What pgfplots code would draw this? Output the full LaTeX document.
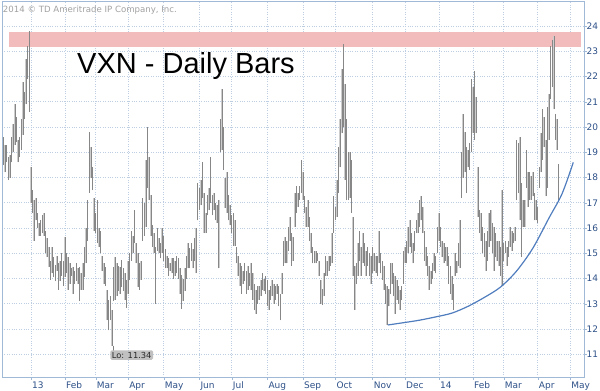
\documentclass[border=0pt]{standalone}
\usepackage{fontspec}
\setmainfont{DejaVu Sans}
\newfontfamily\arialf{Liberation Sans}
\usepackage{pgfplots}
\usepackage{pgfplotstable}
\pgfplotsset{compat=1.18}
\definecolor{tickblue}{RGB}{45,80,135}
\definecolor{axisblue}{RGB}{160,185,215}
\definecolor{gridblue}{RGB}{190,206,226}
\definecolor{bandred}{RGB}{242,188,188}
\definecolor{barcol}{RGB}{135,135,135}
\definecolor{barfill}{RGB}{205,205,205}
\definecolor{curveblue}{RGB}{80,125,190}
\definecolor{copygray}{RGB}{160,160,160}
\definecolor{lobox}{RGB}{192,192,192}

\pgfplotstableread{
i lo hi
-17 18.5 19.6
-16 18.2 19.3
-15 18.6 19.3
-14 17.9 18.8
-13 18.0 18.9
-12 18.6 19.6
-11 19.0 20.1
-10 19.3 20.9
-9 19.4 20.4
-8 18.6 19.5
-7 18.8 19.6
-6 19.1 20.3
-5 19.7 21.8
-4 20.3 21.4
-3 20.9 22.7
-2 21.9 23.2
-1 20.6 23.8
0 17.0 18.4
1 16.6 17.5
2 15.5 17.1
3 16.3 17.2
4 16.0 16.6
5 15.7 16.2
6 15.7 16.3
7 15.8 16.5
8 15.7 16.6
9 15.0 15.9
10 14.85 15.6
11 14.45 15.25
12 13.95 14.7
13 14.2 15.25
14 14.06 14.85
15 13.9 14.55
16 14.3 14.9
17 13.55 14.6
18 13.9 14.7
19 14.1 15.0
20 13.7 14.7
21 14.06 15.64
22 14.2 15.0
23 13.55 14.85
24 13.8 14.6
25 14.1 14.4
26 13.4 14.45
27 13.8 14.3
28 13.9 14.6
29 13.8 14.4
30 13.1 14.45
31 13.55 14.2
32 13.55 14.6
33 14.06 15.25
34 14.6 16.0
35 15.5 17.1
36 17.4 19.8
37 18.0 19.2
38 17.5 18.4
39 15.9 17.2
40 15.8 16.6
41 15.4 17.1
42 15.25 16.0
43 15.0 15.9
44 14.3 14.9
45 13.8 14.6
46 13.7 14.45
47 12.35 13.55
48 11.95 13.15
49 12.35 13.3
50 11.34 12.75
51 13.1 14.45
52 13.15 14.85
53 13.3 14.6
54 13.5 14.5
55 13.4 14.45
56 13.66 14.73
57 13.5 14.4
58 13.15 14.2
59 12.83 13.94
60 13.4 14.7
61 13.94 15.0
62 14.7 15.9
63 15.0 15.7
64 15.4 16.7
65 14.6 15.4
66 13.66 15.0
67 13.55 14.6
68 13.95 14.7
69 15.5 17.2
70 15.7 17.0
71 16.04 18.7
72 17.6 20.0
73 17.1 18.8
74 15.7 17.3
75 15.25 16.1
76 15.0 15.8
77 13.0 15.25
78 15.1 16.0
79 15.0 15.6
80 14.8 15.4
81 15.0 16.0
82 14.7 15.7
83 14.4 15.15
84 14.4 14.9
85 14.1 14.8
86 14.3 14.6
87 14.2 14.8
88 14.0 14.8
89 14.1 14.7
90 14.2 14.9
91 14.0 14.8
92 13.4 14.4
93 12.8 14.15
94 13.1 14.0
95 13.5 14.4
96 14.0 14.9
97 14.4 15.4
98 14.4 15.2
99 14.7 15.4
100 14.4 15.15
101 14.7 15.6
102 14.2 16.0
103 16.3 17.8
104 16.7 17.6
105 16.9 17.9
106 17.2 18.6
107 15.8 17.4
108 15.8 16.6
109 16.5 17.3
110 16.7 17.6
111 17.0 18.8
112 16.5 17.3
113 16.7 17.4
114 16.3 17.0
115 16.2 16.9
116 14.4 17.1
117 19.0 20.3
118 19.1 21.5
119 18.3 20.0
120 16.8 18.0
121 16.6 18.2
122 16.3 17.3
123 16.1 16.9
124 15.8 16.5
125 15.3 16.6
126 15.3 16.3
127 14.6 15.26
128 14.1 14.9
129 13.7 14.6
130 13.4 14.5
131 13.8 14.3
132 13.9 14.6
133 13.4 14.3
134 13.55 14.5
135 13.7 14.2
136 13.55 14.6
137 13.15 14.2
138 12.75 13.8
139 12.6 13.55
140 13.0 13.7
141 13.15 13.7
142 13.3 13.95
143 13.55 14.2
144 13.5 14.0
145 13.4 14.1
146 12.9 13.95
147 12.75 13.55
148 13.15 13.7
149 13.3 13.95
150 13.0 13.8
151 13.15 13.7
152 13.4 13.8
153 12.9 13.7
154 12.35 13.4
155 13.4 14.2
156 14.5 15.5
157 14.6 15.65
158 14.6 15.5
159 15.1 16.05
160 15.5 16.45
161 14.5 15.8
162 14.7 15.65
163 16.05 17.4
164 16.6 17.65
165 16.85 17.4
166 17.1 17.65
167 17.4 18.7
168 17.1 18.2
169 16.6 17.25
170 16.05 16.85
171 16.05 17.1
172 15.5 16.45
173 15.0 15.8
174 14.6 15.26
175 14.6 15.1
176 14.6 15.1
177 14.7 15.0
178 14.1 14.7
179 13.0 13.95
180 12.95 13.6
181 13.3 14.2
182 14.1 14.9
183 14.1 14.7
184 14.3 14.9
185 14.5 14.9
186 14.6 15.8
187 15.8 17.25
188 16.3 16.85
189 16.45 17.9
190 17.4 19.2
191 18.4 20.3
192 19.75 22.3
193 20.0 23.3
194 17.9 21.7
195 17.1 20.3
196 17.1 19.0
197 17.2 19.0
198 16.6 18.7
199 14.1 16.45
200 12.75 14.5
201 13.8 14.6
202 14.1 15.4
203 14.7 15.9
204 14.1 15.26
205 14.6 15.8
206 14.5 15.4
207 14.1 15.1
208 14.5 15.26
209 14.1 15.0
210 13.8 14.9
211 14.2 15.26
212 14.3 15.0
213 14.2 14.9
214 14.1 14.9
215 14.6 15.9
216 14.2 15.0
217 13.95 14.7
218 13.55 14.5
219 13.0 13.8
220 12.15 13.7
221 12.9 13.6
222 13.4 14.6
223 13.8 14.6
224 13.3 14.2
225 12.6 14.1
226 13.15 13.95
227 13.0 13.7
228 12.75 13.55
229 13.15 13.7
230 13.8 15.1
231 14.6 15.26
232 14.6 15.5
233 15.0 16.05
234 15.26 16.3
235 15.0 15.8
236 14.6 15.4
237 15.1 15.9
238 15.8 16.3
239 15.8 16.6
240 16.05 17.1
241 16.3 17.25
242 15.8 16.85
243 14.7 15.9
244 14.5 15.26
245 14.1 14.9
246 13.55 14.5
247 13.8 14.3
248 14.0 14.6
249 14.3 15.0
250 14.2 14.9
251 15.0 16.05
252 15.5 16.6
253 15.26 16.05
254 14.85 15.5
255 14.6 15.4
256 14.7 15.26
257 14.5 15.26
258 13.8 14.9
259 13.4 14.5
260 13.15 14.1
261 12.75 13.8
262 14.1 15.0
263 14.2 14.7
264 14.5 15.4
265 14.4 16.3
266 17.2 19.0
267 18.0 20.5
268 18.2 19.8
269 17.4 19.2
270 18.4 19.1
271 18.3 19.35
272 19.0 21.9
273 19.75 21.6
274 19.5 22.2
275 19.75 21.2
276 16.45 18.4
277 15.8 16.7
278 15.5 16.6
279 15.0 16.05
280 14.85 15.8
281 14.3 15.5
282 14.7 15.9
283 15.26 16.6
284 15.5 16.7
285 15.0 16.2
286 14.3 16.05
287 14.85 15.8
288 14.7 15.5
289 14.5 15.5
290 14.1 15.26
291 13.7 17.5
292 14.7 15.4
293 15.0 15.5
294 14.5 15.26
295 14.85 15.5
296 15.26 16.05
297 15.1 15.9
298 15.4 15.8
299 15.5 16.05
300 17.1 19.5
301 17.4 19.35
302 16.3 19.6
303 14.85 17.8
304 16.05 17.1
305 16.05 17.1
306 17.6 19.1
307 16.85 18.2
308 17.1 18.2
309 17.1 18.05
310 17.25 18.2
311 16.3 17.4
312 16.3 17.1
313 16.2 16.85
314 17.6 18.4
315 18.2 19.75
316 18.7 20.7
317 19.2 20.4
318 17.25 19.5
319 17.6 20.8
320 19.5 21.3
321 21.1 23.2
322 21.6 23.45
323 20.7 23.6
324 19.5 20.5
325 19.1 20.3
326 17.1 18.55
}\bars

\pgfplotstableread{
i v
220.4 12.16
230 12.25
240 12.35
250 12.48
260 12.63
270 12.9
280 13.25
290 13.66
300 14.3
310 15.2
320 16.4
328 17.35
335 18.6
}\curve

\pgfplotstablegetrowsof{\bars}
\pgfmathtruncatemacro\nlast{\pgfplotsretval-1}

\begin{document}
\begin{tikzpicture}[x=1pt,y=1pt]
\begin{axis}[
  scale only axis, width=582pt, height=376pt,
  xmin=-17.9, xmax=341.6, ymin=10.1, ymax=24.99,
  axis line style={axisblue},
  xtick={0,21,40,60,82,104,124,146,168,188,211,231,252,273,292,313,333},
  xticklabels={13,Feb,Mar,Apr,May,Jun,Jul,Aug,Sep,Oct,Nov,Dec,14,Feb,Mar,Apr,May},
  ytick={11,12,13,14,15,16,17,18,19,20,21,22,23,24},
  yticklabel pos=right,
  ytick pos=right, xtick pos=bottom,
  tick align=outside,
  major tick length=2.5pt,
  tick style={axisblue},
  grid=major,
  major grid style={gridblue, dotted, line width=0.7pt},
  ticklabel style={font=\fontsize{9}{10}\selectfont, text=tickblue, inner sep=1pt},
  xticklabel style={anchor=north west, yshift=-1pt},
  yticklabel style={anchor=west, xshift=-1pt},
  /pgf/number format/assume math mode=true,
]
\coordinate (O) at (rel axis cs:0,0);
\addplot[fill=bandred, draw=none, forget plot] coordinates {(-13.8,23.17) (339.8,23.17) (339.8,23.77) (-13.8,23.77)} -- cycle;
\pgfplotsforeachungrouped \r in {0,...,\nlast}{%
  \pgfplotstablegetelem{\r}{i}\of\bars \let\bi\pgfplotsretval
  \pgfplotstablegetelem{\r}{lo}\of\bars \let\blo\pgfplotsretval
  \pgfplotstablegetelem{\r}{hi}\of\bars \let\bhi\pgfplotsretval
  \edef\temp{\noexpand\addplot[barfill, line width=1.5pt, forget plot] coordinates {(\bi,\blo) (\bi,\bhi)};}%
  \temp
}
\pgfplotsforeachungrouped \r in {0,...,\nlast}{%
  \pgfplotstablegetelem{\r}{i}\of\bars \let\bi\pgfplotsretval
  \pgfplotstablegetelem{\r}{lo}\of\bars \let\blo\pgfplotsretval
  \pgfplotstablegetelem{\r}{hi}\of\bars \let\bhi\pgfplotsretval
  \edef\temp{\noexpand\addplot[barcol, line width=0.55pt, forget plot] coordinates {(\bi,\blo) (\bi,\bhi)};}%
  \temp
}
\addplot[curveblue, line width=1.2pt, smooth] table[x=i, y=v] {\curve};
\draw[gray] (axis cs:50.8,11.34) -- (axis cs:50.8,11.12);
\node[fill=lobox, rounded corners=1.5pt, inner sep=1.6pt,
  font=\fontsize{8.3}{9}\selectfont, text={rgb,255:red,40;green,40;blue,40}]
  at (axis cs:62.2,10.97) {Lo: 11.34};
\end{axis}
\node[anchor=base west, inner sep=0, font=\arialf\fontsize{29}{34}\selectfont] at ([shift={(75,303)}]O) {VXN - Daily Bars};
\node[anchor=base west, inner sep=0, text=copygray, font=\fontsize{8.6}{10}\selectfont] at ([shift={(0.7,364)}]O) {2014 © TD Ameritrade IP Company, Inc.};
\pgfresetboundingbox
\path[use as bounding box] ([shift={(-2,-14)}]O) rectangle ([shift={(598,377)}]O);
\end{tikzpicture}
\end{document}
